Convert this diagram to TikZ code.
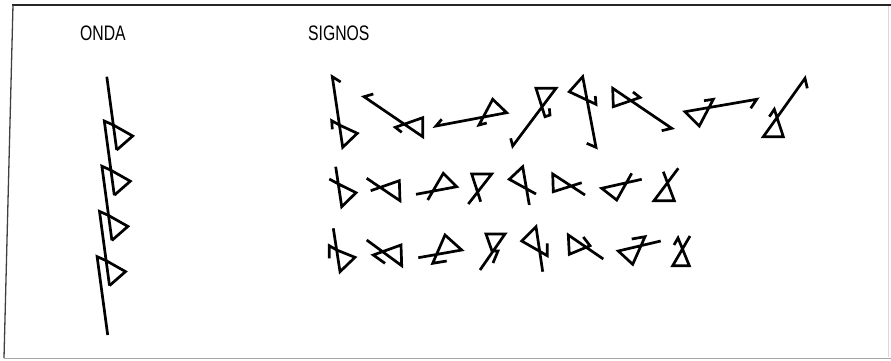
\documentclass[tikz,border=0pt]{standalone}
\usepackage{fontspec}
\setmainfont{Liberation Sans}
\begin{document}
\begin{tikzpicture}[x=1pt,y=-1pt,
  glyph/.style={line width=2.7pt,line join=miter,line cap=butt},
  title/.style={font=\fontsize{21}{24}\selectfont, anchor=west, inner sep=0pt, xscale=0.75}]
\useasboundingbox (0,0) rectangle (891,360);
% frame
\draw[line width=2.2pt,black!85] (12,5) -- (891,5);
\draw[line width=1.3pt,black!75] (13,5) -- (4,358);
\draw[line width=0.8pt,black!35] (4,358) -- (891,358);
\draw[line width=0.6pt,black!15] (888,6) -- (888,357);
% titles
\node[title] (onda) at (80,33) {ONDA};
\node[title] (signos) at (308,33) {SIGNOS};
% wave
\draw[glyph] (106.8,76.7) -- (116.7,150);
\draw[glyph] (113.3,125) -- (104.3,121) -- (114.3,195.2);
\draw[glyph] (113.3,125) -- (132.7,136) -- (116.7,150);
\draw[glyph] (110.9,170.2) -- (101.9,166.2) -- (111.9,240.4);
\draw[glyph] (110.9,170.2) -- (130.3,181.2) -- (114.3,195.2);
\draw[glyph] (108.5,215.4) -- (99.5,211.4) -- (109.5,285.6);
\draw[glyph] (108.5,215.4) -- (127.9,226.4) -- (111.9,240.4);
\draw[glyph] (106.1,260.6) -- (97.1,256.6) -- (107.7,335);
\draw[glyph] (106.1,260.6) -- (125.5,271.6) -- (109.5,285.6);
% ---- row 1
% 1a
\draw[glyph] (340.7,82) -- (332.3,76.7) -- (342.7,147.3) -- (357.3,133.3) -- (339.4,125) -- (331.7,120.7) -- (332.3,129.3);
% 1b
\draw[glyph] (373.3,94) -- (364,96.7) -- (422.7,136.7) -- (422.7,117.7) -- (395.3,127.3) -- (401.7,132.3);
% 1c
\draw[glyph] (441.7,119.3) -- (436,126) -- (506.7,112.7) -- (492.7,99.3) -- (479,125) -- (486.7,123);
% 1d
\draw[glyph] (510.7,138.3) -- (512.7,146) -- (556,88.3) -- (536,88.3) -- (545,116.7) -- (550,115) -- (549.3,108.3);
% 1e
\draw[glyph] (586.7,143.3) -- (596,147.3) -- (582.7,76.7) -- (569.3,91.7) -- (596,104.3) -- (595.3,96);
% 1f
\draw[glyph] (661.7,130.7) -- (671.7,128.3) -- (612.7,88.3) -- (613.3,106.7) -- (640,97.5) -- (633,92);
% 1g
\draw[glyph] (704,100.7) -- (713.3,99.3) -- (699.3,126) -- (685,111.7) -- (756.7,99.3) -- (750.7,108.3);
% 1h
\draw[glyph] (807.3,88.3) -- (805,78.3) -- (763.3,136.7) -- (783.3,136.7) -- (774.3,109.3) -- (769.3,116.7);
% ---- row 2
% 2a
\draw[glyph] (335.7,166.7) -- (341.7,206.7) -- (356,192.7) -- (338.5,184) -- (329.3,179);
% 2b
\draw[glyph] (366.7,178.3) -- (400,200.7) -- (399.3,180.7) -- (370.7,190.7);
% 2c
\draw[glyph] (416,194.3) -- (456.7,186.7) -- (443.3,173.3) -- (427.7,200);
% 2d
\draw[glyph] (468.3,204) -- (491.7,174) -- (471.7,174) -- (480.7,201.7);
% 2e
\draw[glyph] (529.3,205) -- (522.7,166.7) -- (509.3,179.3) -- (536,194);
% 2f
\draw[glyph] (585,195) -- (552.7,174) -- (553.3,191.7) -- (581.7,182.7);
% 2g
\draw[glyph] (641.7,179.3) -- (601.7,188.3) -- (616.7,200) -- (631.7,173.3);
% 2h
\draw[glyph] (678.3,168.3) -- (654,200.7) -- (674.3,200.7) -- (663.3,171.7);
% ---- row 3
% 3a
\draw[glyph] (333.3,228.3) -- (340,271.7) -- (355,257.3) -- (336.7,250) -- (329.3,245.7) -- (329.3,258.3);
% 3b
\draw[glyph] (366.7,240) -- (401.7,265.7) -- (401,245) -- (373.3,255) -- (385,263.3);
% 3c
\draw[glyph] (418.3,257.7) -- (461.7,250) -- (445,235) -- (432.7,263.3) -- (446.7,261);
% 3d
\draw[glyph] (480,270) -- (505,234) -- (486,234) -- (492,251) -- (498,251) -- (493,263);
% 3e
\draw[glyph] (542.7,271.7) -- (536,226.7) -- (521.7,241) -- (547.3,255.7) -- (547.3,243.3);
% 3f
\draw[glyph] (603.3,259) -- (568.3,235) -- (569.3,254.3) -- (590,245.7) -- (583.3,237);
% 3g
\draw[glyph] (631.7,239) -- (645,236.7) -- (632.7,264.3) -- (618.3,251) -- (660.7,241);
% 3h
\draw[glyph] (690,236) -- (672.7,265.7) -- (689.3,265.7) -- (678,238) -- (674,245);
\end{tikzpicture}
\end{document}
